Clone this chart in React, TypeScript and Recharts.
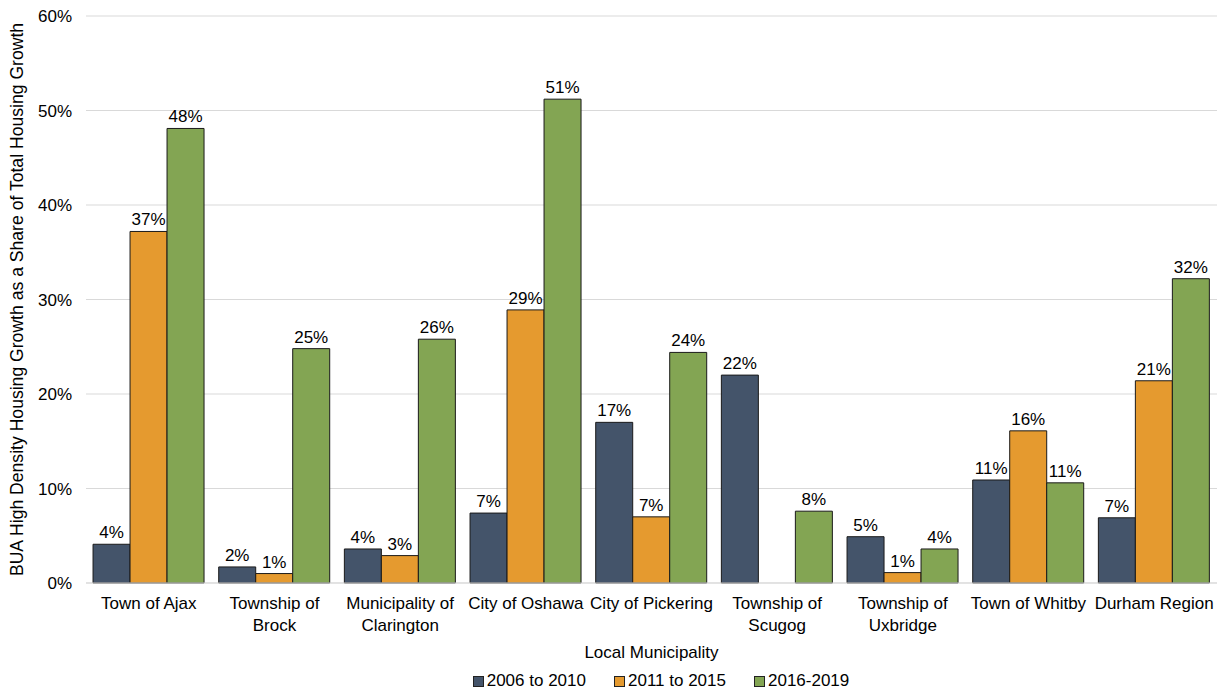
import React from "react";
import { BarChart, Bar, XAxis, YAxis, CartesianGrid, Legend, LabelList } from "recharts";

const municipalities = [
  "Town of Ajax",
  "Township of Brock",
  "Municipality of Clarington",
  "City of Oshawa",
  "City of Pickering",
  "Township of Scugog",
  "Township of Uxbridge",
  "Town of Whitby",
  "Durham Region",
];

// how each tick label wraps in the original
const tickLines: string[][] = [
  ["Town of Ajax"],
  ["Township of", "Brock"],
  ["Municipality of", "Clarington"],
  ["City of Oshawa"],
  ["City of Pickering"],
  ["Township of", "Scugog"],
  ["Township of", "Uxbridge"],
  ["Town of Whitby"],
  ["Durham Region"],
];

const period2006 = [4.1, 1.7, 3.6, 7.4, 17.0, 22.0, 4.9, 10.9, 6.9];
const period2011 = [37.2, 1.0, 2.9, 28.9, 7.0, null, 1.1, 16.1, 21.4];
const period2016 = [48.1, 24.8, 25.8, 51.2, 24.4, 7.6, 3.6, 10.6, 32.2];

const yTicks = [0, 10, 20, 30, 40, 50, 60];

const series = [
  { key: "p2006", name: "2006 to 2010", color: "#44546A" },
  { key: "p2011", name: "2011 to 2015", color: "#E59A2F" },
  { key: "p2016", name: "2016-2019", color: "#83A553" },
];

const data = municipalities.map((name, i) => ({
  name,
  p2006: period2006[i],
  p2011: period2011[i],
  p2016: period2016[i],
}));

const font = "'Liberation Sans', Arial, sans-serif";
const fs = 17;

const MultiLineTick = (props: any) => {
  const { x, y, payload } = props;
  const idx = municipalities.indexOf(payload.value);
  const lines = idx >= 0 ? tickLines[idx] : [payload.value];
  return (
    <text x={x} y={y} textAnchor="middle" fill="#000" fontSize={fs} fontFamily={font}>
      {lines.map((l, i) => (
        <tspan key={i} x={x} dy={i === 0 ? 18 : 22}>
          {l}
        </tspan>
      ))}
    </text>
  );
};

const LegendContent = () => (
  <div
    style={{
      display: "flex",
      justifyContent: "center",
      alignItems: "center",
      fontFamily: font,
      fontSize: fs,
      color: "#000",
      paddingLeft: 105,
      paddingTop: 5,
    }}
  >
    {series.map((s, i) => (
      <div
        key={s.key}
        style={{ display: "flex", alignItems: "center", marginRight: i < series.length - 1 ? 28 : 0 }}
      >
        <span
          style={{
            display: "inline-block",
            width: 9,
            height: 9,
            background: s.color,
            border: "1px solid #222",
            marginRight: 3,
          }}
        />
        <span>{s.name}</span>
      </div>
    ))}
  </div>
);

const pct = (v: any) => (v == null ? "" : `${Math.round(v)}%`);

export default function App() {
  return (
    <div style={{ position: "absolute", left: 0, top: 0, background: "#fff" }}>
      <BarChart
        width={1217}
        height={694}
        data={data}
        margin={{ top: 16, right: 0, left: 0, bottom: 0 }}
        barCategoryGap="5.6%"
        barGap={0}
      >
        <CartesianGrid vertical={false} stroke="#d9d9d9" />
        <XAxis
          dataKey="name"
          interval={0}
          height={83}
          axisLine={{ stroke: "#d9d9d9" }}
          tickLine={false}
          tick={<MultiLineTick />}
          label={{
            value: "Local Municipality",
            position: "insideBottom",
            offset: 8,
            fill: "#000",
            fontSize: fs,
            fontFamily: font,
          }}
        />
        <YAxis
          width={86}
          domain={[0, 60]}
          ticks={yTicks}
          tickFormatter={(v) => `${v}%`}
          axisLine={false}
          tickLine={false}
          tickMargin={8}
          tick={{ fill: "#000", fontSize: fs, fontFamily: font }}
          label={{
            value: "BUA High Density Housing Growth as a Share of Total Housing Growth",
            angle: -90,
            position: "insideLeft",
            dx: 12,
            dy: 0,
            fill: "#000",
            fontSize: 17.6,
            fontFamily: font,
            style: { textAnchor: "middle" },
          }}
        />
        <Legend verticalAlign="bottom" height={28} content={<LegendContent />} />
        {series.map((s) => (
          <Bar
            key={s.key}
            dataKey={s.key}
            name={s.name}
            fill={s.color}
            stroke="#1a1a1a"
            strokeWidth={1}
            isAnimationActive={false}
          >
            <LabelList
              dataKey={s.key}
              position="top"
              offset={6}
              formatter={pct}
              fill="#000"
              fontSize={fs}
              fontFamily={font}
            />
          </Bar>
        ))}
      </BarChart>
    </div>
  );
}
